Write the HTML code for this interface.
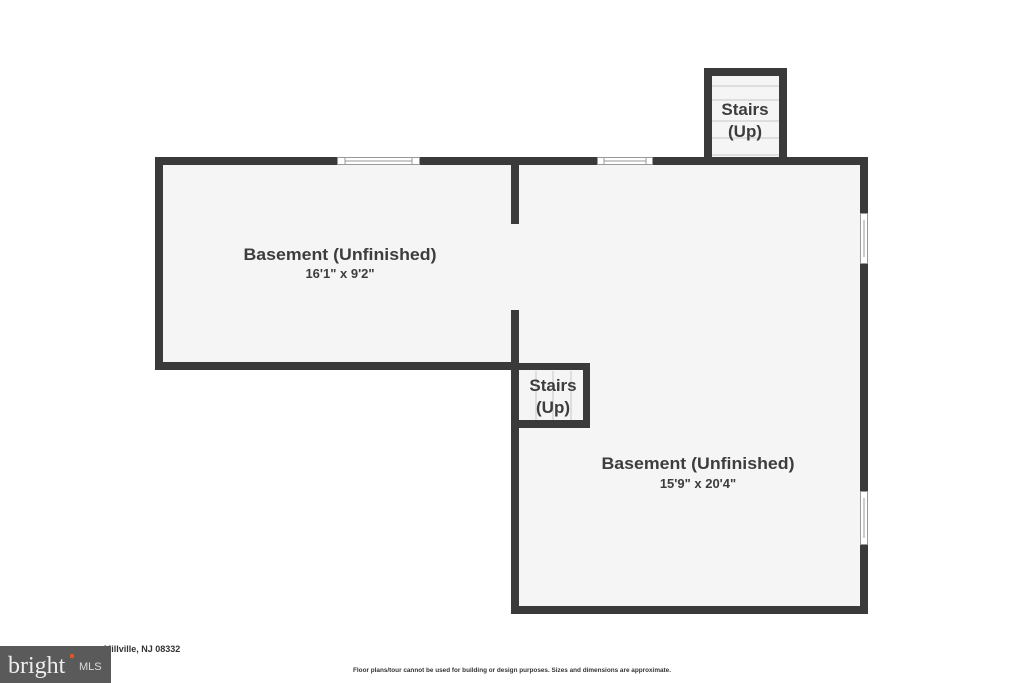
<!DOCTYPE html>
<html><head><style>body{margin:0;background:#fff;}svg{display:block}</style></head><body>
<svg width="1024" height="683" viewBox="0 0 1024 683" xmlns="http://www.w3.org/2000/svg" font-family="'Liberation Sans', 'DejaVu Sans', sans-serif">
<rect width="1024" height="683" fill="#fff"/>
<rect x="159" y="161" width="356" height="205" fill="#f5f5f5"/>
<rect x="515" y="161" width="349" height="449" fill="#f5f5f5"/>
<rect x="708" y="72" width="75" height="92" fill="#f5f5f5"/>
<g stroke="#c8c8c8" stroke-width="1">
<line x1="712" y1="86" x2="779" y2="86"/><line x1="712" y1="100" x2="779" y2="100"/>
<line x1="712" y1="121" x2="779" y2="121"/><line x1="712" y1="138" x2="779" y2="138"/>
<line x1="712" y1="155" x2="779" y2="155"/>
<line x1="536" y1="371" x2="536" y2="420"/><line x1="553" y1="371" x2="553" y2="420"/><line x1="571" y1="371" x2="571" y2="420"/>
</g>
<g fill="#3a3a3a">
<rect x="155" y="157" width="713" height="8"/>
<rect x="155" y="157" width="8" height="213"/>
<rect x="155" y="362" width="364" height="8"/>
<rect x="511" y="157" width="8" height="67"/>
<rect x="511" y="310" width="8" height="304"/>
<rect x="511" y="606" width="357" height="8"/>
<rect x="860" y="157" width="8" height="457"/>
<rect x="511" y="363" width="79" height="7"/>
<rect x="583" y="363" width="7" height="65"/>
<rect x="511" y="420" width="79" height="8"/>
<rect x="704" y="68" width="83" height="8"/>
<rect x="704" y="68" width="8" height="97"/>
<rect x="779" y="68" width="8" height="97"/>
</g>
<g fill="#fff" stroke="#999" stroke-width="1">
<rect x="337.5" y="157.5" width="82" height="7"/>
<rect x="597.5" y="157.5" width="55" height="7"/>
<rect x="860.5" y="213.5" width="7" height="50"/>
<rect x="860.5" y="491.5" width="7" height="53"/>
</g>
<g stroke="#999" stroke-width="1">
<line x1="345" y1="161" x2="412" y2="161"/><line x1="345" y1="158" x2="345" y2="164"/><line x1="412" y1="158" x2="412" y2="164"/>
<line x1="604" y1="161" x2="646" y2="161"/><line x1="604" y1="158" x2="604" y2="164"/><line x1="646" y1="158" x2="646" y2="164"/>
<line x1="864" y1="220" x2="864" y2="257"/><line x1="864" y1="498" x2="864" y2="538"/>
</g>
<g fill="#3d3d3d" font-weight="bold" text-anchor="middle">
<text x="340" y="260" font-size="17" textLength="193" lengthAdjust="spacingAndGlyphs">Basement (Unfinished)</text>
<text x="340" y="278" font-size="13">16'1" x 9'2"</text>
<text x="698" y="469" font-size="17" textLength="193" lengthAdjust="spacingAndGlyphs">Basement (Unfinished)</text>
<text x="698" y="488" font-size="13">15'9" x 20'4"</text>
<text x="745" y="115" font-size="17">Stairs</text>
<text x="745" y="137" font-size="17">(Up)</text>
<text x="553" y="391" font-size="17">Stairs</text>
<text x="553" y="413" font-size="17">(Up)</text>
<text x="512" y="672" font-size="6" font-weight="bold" fill="#333" textLength="318" lengthAdjust="spacingAndGlyphs">Floor plans/tour cannot be used for building or design purposes. Sizes and dimensions are approximate.</text>
<text x="142" y="652" font-size="9" fill="#333">Millville, NJ 08332</text>
</g>
<rect x="0" y="646" width="111" height="37" fill="#5a5a5a"/>
<text x="8" y="673" font-size="24" fill="#eee" font-family="'Liberation Serif', serif">bright</text>
<text x="79" y="670" font-size="11" fill="#ddd">MLS</text>
<rect x="70" y="654" width="4" height="4" fill="#d9572b"/>
</svg>
</body></html>
